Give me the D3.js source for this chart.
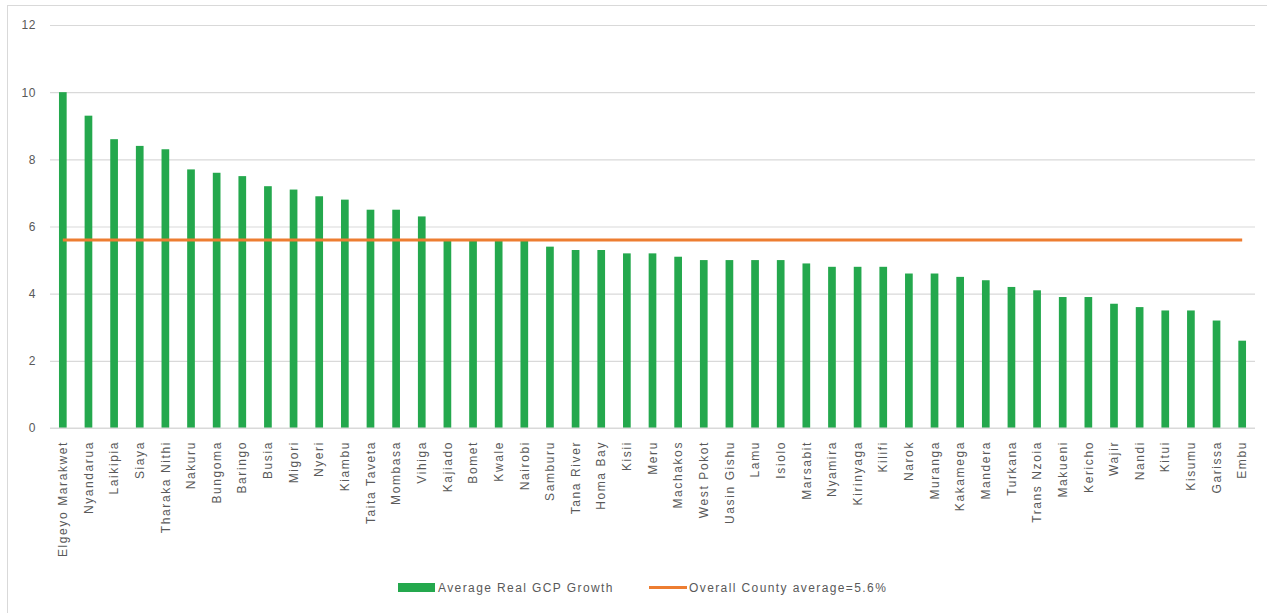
<!DOCTYPE html>
<html>
<head>
<meta charset="utf-8">
<script src="https://cdn.jsdelivr.net/npm/d3@7"></script>
<style>
  html, body { margin: 0; padding: 0; background: #fff; }
  svg { display: block; }
  text { font-family: "Liberation Sans", Arial, sans-serif; fill: #595959; }
</style>
</head>
<body>
<svg id="chart" width="1267" height="613"></svg>
<script>
// County names, sorted by average real GCP growth (%)
const counties = [
  "Elgeyo Marakwet", "Nyandarua", "Laikipia", "Siaya", "Tharaka Nithi", "Nakuru",
  "Bungoma", "Baringo", "Busia", "Migori", "Nyeri", "Kiambu", "Taita Taveta",
  "Mombasa", "Vihiga", "Kajiado", "Bomet", "Kwale", "Nairobi", "Samburu",
  "Tana River", "Homa Bay", "Kisii", "Meru", "Machakos", "West Pokot",
  "Uasin Gishu", "Lamu", "Isiolo", "Marsabit", "Nyamira", "Kirinyaga", "Kilifi",
  "Narok", "Muranga", "Kakamega", "Mandera", "Turkana", "Trans Nzoia", "Makueni",
  "Kericho", "Wajir", "Nandi", "Kitui", "Kisumu", "Garissa", "Embu"
];

const growth = [
  10.0, 9.3, 8.6, 8.4, 8.3, 7.7,
  7.6, 7.5, 7.2, 7.1, 6.9, 6.8, 6.5,
  6.5, 6.3, 5.6, 5.6, 5.6, 5.6, 5.4,
  5.3, 5.3, 5.2, 5.2, 5.1, 5.0,
  5.0, 5.0, 5.0, 4.9, 4.8, 4.8, 4.8,
  4.6, 4.6, 4.5, 4.4, 4.2, 4.1, 3.9,
  3.9, 3.7, 3.6, 3.5, 3.5, 3.2, 2.6
];

const countyAverage = 5.6;
const yTicks = [0, 2, 4, 6, 8, 10, 12];
const legendLabels = ["Average Real GCP Growth", "Overall County average=5.6%"];

const barColor = "#24a84d";
const lineColor = "#ed7d31";
const gridColor = "#d9d9d9";

const svg = d3.select("#chart");

// outer chart frame
svg.append("rect")
  .attr("x", 7.5).attr("y", 5.5)
  .attr("width", 1270).attr("height", 620)
  .attr("fill", "none").attr("stroke", "#d9d9d9").attr("stroke-width", 1);

const plot = { left: 50, right: 1255, top: 25, bottom: 428 };

const x = d3.scaleBand()
  .domain(counties)
  .range([plot.left, plot.right])
  .paddingInner(0.7)
  .paddingOuter(0.35);

const y = d3.scaleLinear()
  .domain([0, 12])
  .range([plot.bottom, plot.top]);

// horizontal gridlines + y labels
const yAxis = d3.axisLeft(y)
  .tickValues(yTicks)
  .tickSize(-(plot.right - plot.left))
  .tickPadding(14)
  .tickFormat(d3.format("d"));

const gy = svg.append("g")
  .attr("transform", `translate(${plot.left},0)`)
  .call(yAxis);
gy.select(".domain").remove();
gy.selectAll(".tick line").attr("stroke", gridColor).attr("stroke-width", 1.2);
gy.selectAll(".tick text")
  .attr("font-size", 12)
  .attr("letter-spacing", 0.6)
  .attr("fill", "#595959")
  .style("font-family", "'Liberation Sans', Arial, sans-serif");

// bars
svg.append("g")
  .selectAll("rect")
  .data(counties)
  .join("rect")
  .attr("x", d => x(d))
  .attr("width", x.bandwidth())
  .attr("y", (d, i) => y(growth[i]))
  .attr("height", (d, i) => y(0) - y(growth[i]))
  .attr("fill", barColor);

// category axis
const xAxis = d3.axisBottom(x).tickSize(0).tickPadding(0);
const gx = svg.append("g")
  .attr("transform", `translate(0,${plot.bottom})`)
  .call(xAxis);
gx.select(".domain").attr("stroke", gridColor).attr("stroke-width", 1.2)
  .attr("d", `M${plot.left},0H${plot.right}`);
gx.selectAll(".tick text")
  .attr("transform", "rotate(-90)")
  .attr("text-anchor", "end")
  .attr("dx", -13)
  .attr("dy", "0.35em")
  .attr("y", 0)
  .attr("font-size", 12)
  .attr("letter-spacing", 1.6)
  .attr("fill", "#595959")
  .style("font-family", "'Liberation Sans', Arial, sans-serif");

// overall county average line
const avgLine = d3.line()
  .x(d => x(d) + x.bandwidth() / 2)
  .y(() => y(countyAverage));
svg.append("path")
  .datum([counties[0], counties[counties.length - 1]])
  .attr("d", avgLine)
  .attr("fill", "none")
  .attr("stroke", lineColor)
  .attr("stroke-width", 3);

// legend
const legend = svg.append("g").attr("font-size", 12);
legend.append("rect")
  .attr("x", 398).attr("y", 583).attr("width", 37).attr("height", 9)
  .attr("fill", barColor);
legend.append("text")
  .attr("x", 438).attr("y", 592)
  .attr("letter-spacing", 1.4)
  .text(legendLabels[0]);
legend.append("line")
  .attr("x1", 649).attr("x2", 687).attr("y1", 587.5).attr("y2", 587.5)
  .attr("stroke", lineColor).attr("stroke-width", 3);
legend.append("text")
  .attr("x", 689).attr("y", 592)
  .attr("letter-spacing", 1.4)
  .text(legendLabels[1]);
</script>
</body>
</html>
